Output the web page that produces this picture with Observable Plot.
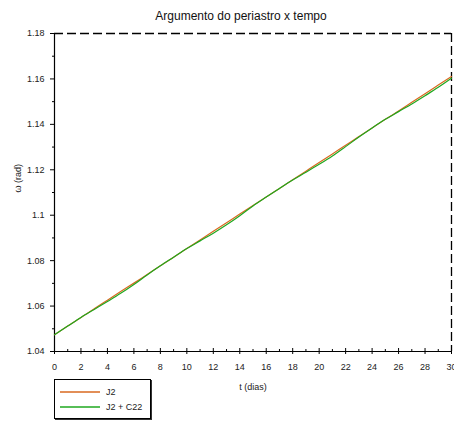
<!DOCTYPE html>
<html>
<head>
<meta charset="utf-8">
<script src="https://cdn.jsdelivr.net/npm/d3@7"></script>
<script src="https://cdn.jsdelivr.net/npm/@observablehq/plot@0.6"></script>
<style>
  body { margin: 0; background: #fff; font-family: "Liberation Sans", Arial, sans-serif; }
  #wrap { position: relative; width: 454px; height: 421px; }
  #legend { position: absolute; left: 54px; top: 379px; width: 95px; height: 38px;
            border: 1px solid #000; box-shadow: 1px 1px 0 #333; background: #fff; }
  #legend svg { position: absolute; left: 0; top: 0; }
</style>
</head>
<body>
<div id="wrap"></div>
<script>
const title = "Argumento do periastro x tempo";
const xLabel = "t (dias)";
const yLabel = "ω (rad)";
const seriesNames = ["J2", "J2 + C22"];
const seriesColors = ["#d8691f", "#1fa81f"];

const days = [0,1,2,3,4,5,6,7,8,9,10,11,12,13,14,15,16,17,18,19,20,21,22,23,24,25,26,27,28,29,30];
const j2 = [1.0474,1.0512,1.0550,1.0588,1.0626,1.0664,1.0701,1.0739,1.0777,1.0815,
            1.0853,1.0891,1.0929,1.0967,1.1005,1.1043,1.1080,1.1118,1.1156,1.1194,
            1.1232,1.1270,1.1308,1.1346,1.1384,1.1422,1.1459,1.1497,1.1535,1.1573,1.1611];
const j2c22 = [1.0474,1.0512,1.0550,1.0585,1.0620,1.0656,1.0695,1.0737,1.0777,1.0815,
               1.0853,1.0887,1.0921,1.0958,1.0998,1.1041,1.1080,1.1118,1.1155,1.1189,
               1.1224,1.1261,1.1302,1.1344,1.1384,1.1422,1.1456,1.1490,1.1526,1.1563,1.1603];

const xTicks = [0,2,4,6,8,10,12,14,16,18,20,22,24,26,28,30];
const xMinor = [1,3,5,7,9,11,13,15,17,19,21,23,25,27,29];
const yTicks = [1.04,1.06,1.08,1.1,1.12,1.14,1.16,1.18];
const yTickLabels = ["1.04","1.06","1.08","1.1","1.12","1.14","1.16","1.18"];
const yMinor = [1.05,1.07,1.09,1.11,1.13,1.15,1.17];

const rows = [];
days.forEach((t, i) => {
  rows.push({t, v: j2[i], s: seriesNames[0]});
});
days.forEach((t, i) => {
  rows.push({t, v: j2c22[i], s: seriesNames[1]});
});

const xDomain = [0, 30];
const yDomain = [1.04, 1.18];

const chart = Plot.plot({
  width: 454,
  height: 421,
  marginLeft: 54,
  marginRight: 3,
  marginTop: 33,
  marginBottom: 70,
  style: { fontFamily: "'Liberation Sans', Arial, sans-serif", fontSize: "9px", color: "#000", background: "#fff" },
  x: { domain: xDomain },
  y: { domain: yDomain },
  color: { domain: seriesNames, range: seriesColors },
  marks: [
    Plot.ruleY([yDomain[1]], { stroke: "#000", strokeWidth: 1.3, strokeDasharray: "9,4" }),
    Plot.ruleX([xDomain[1]], { stroke: "#000", strokeWidth: 1.3, strokeDasharray: "9,4" }),
    Plot.ruleY([yDomain[0]], { stroke: "#000", strokeWidth: 1.2 }),
    Plot.ruleX([xDomain[0]], { stroke: "#000", strokeWidth: 1.2 }),
    Plot.axisY({ ticks: yTicks, tickSize: 4, tickPadding: 6, tickFormat: (d, i) => yTickLabels[yTicks.indexOf(d)], label: null, fill: "#222" }),
    Plot.axisY({ ticks: yMinor, tickSize: 2, tickFormat: () => "", label: null }),
    Plot.axisX({ ticks: xTicks, tickSize: 3, tickPadding: 9, tickFormat: d => String(d), label: null, fill: "#222" }),
    Plot.axisX({ ticks: xTicks, tickSize: -3, tickFormat: () => "", label: null }),
    Plot.axisX({ ticks: xMinor, tickSize: -2, tickFormat: () => "", label: null }),
    Plot.line(rows, { x: "t", y: "v", z: "s", stroke: "s", strokeWidth: 1.2, curve: "monotone-x" }),
    Plot.text([title], { frameAnchor: "top", dx: -12, dy: -22, text: d => d, fontSize: 12, fill: "#111" }),
    Plot.text([xLabel], { frameAnchor: "bottom", dy: 38, text: d => d, fontSize: 9, fill: "#222" }),
    Plot.text([yLabel], { frameAnchor: "left", dx: -36, rotate: -90, text: d => d, fontSize: 9, fill: "#222" })
  ]
});

const wrap = document.getElementById("wrap");
wrap.appendChild(chart);

// legend
const legend = document.createElement("div");
legend.id = "legend";
const ns = "http://www.w3.org/2000/svg";
const lsvg = document.createElementNS(ns, "svg");
lsvg.setAttribute("width", 95);
lsvg.setAttribute("height", 38);
seriesNames.forEach((name, i) => {
  const y = 12 + i * 15;
  const ln = document.createElementNS(ns, "line");
  ln.setAttribute("x1", 5); ln.setAttribute("x2", 45);
  ln.setAttribute("y1", y); ln.setAttribute("y2", y);
  ln.setAttribute("stroke", seriesColors[i]);
  ln.setAttribute("stroke-width", 1.6);
  lsvg.appendChild(ln);
  const tx = document.createElementNS(ns, "text");
  tx.setAttribute("x", 51); tx.setAttribute("y", y + 3);
  tx.setAttribute("font-size", 9);
  tx.setAttribute("font-family", "'Liberation Sans', Arial, sans-serif");
  tx.setAttribute("fill", "#222");
  tx.textContent = name;
  lsvg.appendChild(tx);
});
legend.appendChild(lsvg);
wrap.appendChild(legend);
</script>
</body>
</html>
